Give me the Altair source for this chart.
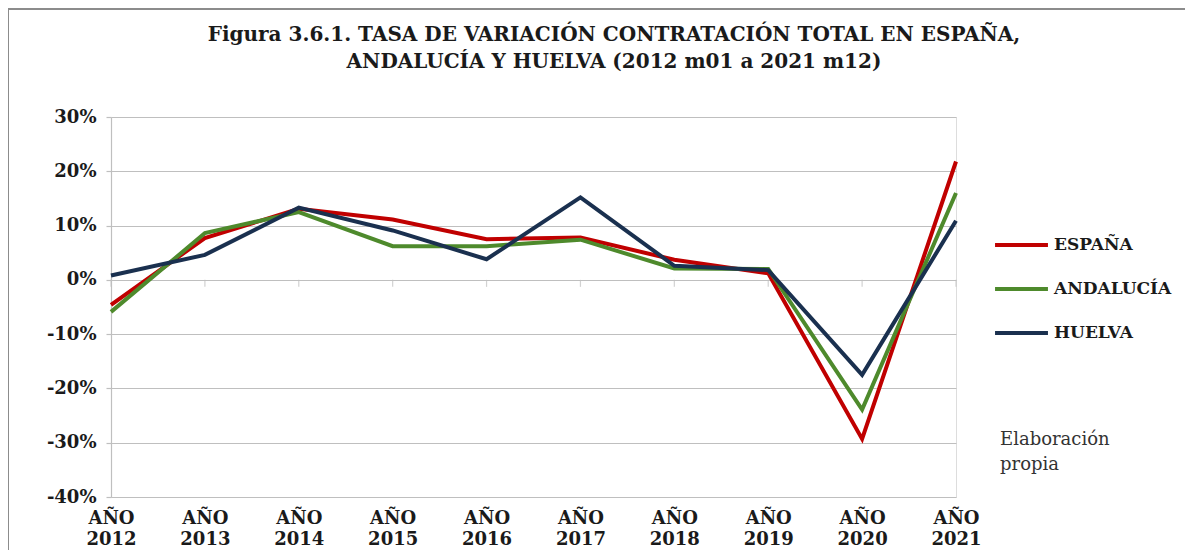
import altair as alt
import pandas as pd

years = [2012, 2013, 2014, 2015, 2016, 2017, 2018, 2019, 2020, 2021]
series_names = ["ESPAÑA", "ANDALUCÍA", "HUELVA"]
espana = [-0.046, 0.077, 0.131, 0.111, 0.075, 0.078, 0.037, 0.012, -0.293, 0.218]
andalucia = [-0.059, 0.086, 0.125, 0.062, 0.062, 0.074, 0.021, 0.020, -0.239, 0.160]
huelva = [0.008, 0.046, 0.133, 0.091, 0.038, 0.152, 0.026, 0.018, -0.175, 0.109]
colors = ["#C00000", "#4E8A2C", "#1A304F"]
y_ticks = [-0.4, -0.3, -0.2, -0.1, 0.0, 0.1, 0.2, 0.3]
title_lines = ["Figura 3.6.1. TASA DE VARIACIÓN CONTRATACIÓN TOTAL EN ESPAÑA,",
               "ANDALUCÍA Y HUELVA (2012 m01 a 2021 m12)"]
note_lines = ["Elaboración", "propia"]

rows = []
for name, vals in zip(series_names, [espana, andalucia, huelva]):
    for yr, v in zip(years, vals):
        rows.append({"year": yr, "serie": name, "value": v})
df = pd.DataFrame(rows)
df_years = pd.DataFrame({"year": years, "zero": [0.0] * len(years)})

SERIF = "DejaVu Serif"
TXT = "#1a1a1a"

x_scale = alt.Scale(domain=[years[0], years[-1]], nice=False, zero=False)
y_scale = alt.Scale(domain=[-0.4, 0.3], nice=False)

lines = alt.Chart(df).mark_line(strokeWidth=4, strokeJoin="miter", strokeCap="butt").encode(
    x=alt.X("year:Q", scale=x_scale,
            axis=alt.Axis(values=years, labelExpr="['AÑO', '' + datum.value]",
                          domain=False, ticks=False, grid=False, title=None,
                          labelFlush=False, labelOverlap=False,
                          labelFont=SERIF, labelFontWeight="bold", labelFontSize=18,
                          labelColor=TXT, labelPadding=12, labelLineHeight=21,
                          labelBaseline="top")),
    y=alt.Y("value:Q", scale=y_scale,
            axis=alt.Axis(values=y_ticks, title=None,
                          labelExpr="(datum.value < -0.001 ? '-' : '') + format(abs(datum.value), '.0%')",
                          grid=True, gridColor="#BFBFBF", gridWidth=1.2,
                          domainColor="#BFBFBF", domainWidth=1.2,
                          tickColor="#BFBFBF", tickSize=5, tickWidth=1.2,
                          labelFont=SERIF, labelFontWeight="bold", labelFontSize=18,
                          labelColor=TXT, labelPadding=10)),
    color=alt.Color("serie:N", sort=series_names,
                    scale=alt.Scale(domain=series_names, range=colors),
                    legend=alt.Legend(title=None, orient="none", legendX=882, legendY=118,
                                      symbolType="stroke", symbolStrokeWidth=4,
                                      symbolSize=2800, clipHeight=20, rowPadding=24,
                                      labelFont=SERIF, labelFontWeight="bold",
                                      labelFontSize=17, labelColor=TXT,
                                      labelOffset=4)),
    order=alt.Order("year:Q"),
)

ticks0 = alt.Chart(df_years).mark_tick(orient="vertical", size=7, thickness=1.2,
                                       color="#BFBFBF", yOffset=3.5).encode(
    x=alt.X("year:Q", scale=x_scale),
    y=alt.Y("zero:Q", scale=y_scale),
)

note = alt.Chart(pd.DataFrame({"t": [note_lines]})).mark_text(
    font=SERIF, fontSize=18, color="#333333", align="left", baseline="middle",
    lineHeight=25).encode(
    text="t", x=alt.value(889), y=alt.value(323))

title = alt.Chart(pd.DataFrame({"t": [title_lines]})).mark_text(
    font=SERIF, fontSize=20, fontWeight="bold", color=TXT, align="center",
    baseline="middle", lineHeight=27).encode(
    text="t", x=alt.value(503), y=alt.value(-82))

frame_left = alt.Chart(df_years).mark_rule(color="#8c8c8c", strokeWidth=1.5).encode(
    x=alt.value(-103), y=alt.value(-109), y2=alt.value(450))
frame_top = alt.Chart(df_years).mark_rule(color="#8c8c8c", strokeWidth=1.5).encode(
    x=alt.value(-103), x2=alt.value(1080), y=alt.value(-108))

chart = alt.layer(ticks0, lines, note, title, frame_left, frame_top).properties(
    width=845, height=380,
    autosize=alt.AutoSizeParams(type="none"),
    padding={"left": 103, "top": 109, "right": 229, "bottom": 53},
).configure_view(stroke="#BFBFBF", strokeWidth=1.2).configure(background="white")

chart.save("out.html", embed_options={"renderer": "svg", "actions": False})
